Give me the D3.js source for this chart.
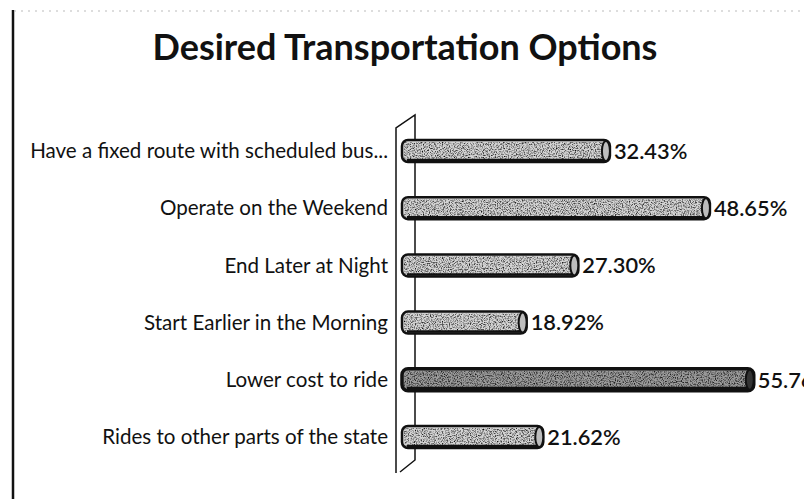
<!DOCTYPE html>
<html>
<head>
<meta charset="utf-8">
<script src="https://cdn.jsdelivr.net/npm/d3@7"></script>
<style>
  html, body { margin: 0; padding: 0; background: #fff; }
  svg { display: block; }
  text { font-family: Lato, "Open Sans", sans-serif; fill: #111; }
</style>
</head>
<body>
<div id="chart"></div>
<script>
// data, top to bottom
const categories = [
  'Have a fixed route with scheduled bus...',
  'Operate on the Weekend',
  'End Later at Night',
  'Start Earlier in the Morning',
  'Lower cost to ride',
  'Rides to other parts of the state'
];
const values = [32.43, 48.65, 27.30, 18.92, 55.76, 21.62];
const valueLabels = ['32.43%', '48.65%', '27.30%', '18.92%', '55.76%', '21.62%'];
const title = 'Desired Transportation Options';

const width = 804, height = 499;
const barH = 22;

const svg = d3.select('#chart').append('svg')
  .attr('width', width)
  .attr('height', height);

// grain texture for the scanned cylinders
const defs = svg.append('defs');
const grain = defs.append('filter').attr('id', 'grain')
  .attr('x', 0).attr('y', 0).attr('width', 1).attr('height', 1);
grain.append('feTurbulence')
  .attr('type', 'fractalNoise')
  .attr('baseFrequency', 0.85)
  .attr('numOctaves', 2)
  .attr('seed', 3)
  .attr('result', 'noise');
grain.append('feColorMatrix')
  .attr('in', 'noise')
  .attr('type', 'matrix')
  .attr('values', '0 0 0 0 0  0 0 0 0 0  0 0 0 0 0  0 0 0 -2.2 1.25')
  .attr('result', 'speck');
grain.append('feComposite')
  .attr('in', 'speck').attr('in2', 'SourceGraphic').attr('operator', 'in');

// frame: thick left edge and faint dotted top
svg.append('line')
  .attr('x1', 13).attr('x2', 13).attr('y1', 10).attr('y2', height)
  .attr('stroke', '#111').attr('stroke-width', 2.5);
svg.append('line')
  .attr('x1', 14).attr('x2', width).attr('y1', 11).attr('y2', 11)
  .attr('stroke', '#bbb').attr('stroke-width', 1)
  .attr('stroke-dasharray', '2,5');

// title
const titleText = svg.append('text')
  .attr('x', 405).attr('y', 60)
  .attr('text-anchor', 'middle')
  .style('font-size', '36px')
  .style('font-weight', 700)
  .text(title);
// stretch to the width seen in the picture
const tw = titleText.node().getComputedTextLength();
titleText.style('font-size', (36 * 505 / tw).toFixed(2) + 'px');

// scales
const x = d3.scaleLinear().domain([0, 60]).range([410, 410 + 60 * 6.165]);
const y = d3.scalePoint().domain(categories).range([151, 437]);

// 3d back wall of the category axis
const wall = svg.append('g').attr('fill', 'none').attr('stroke', '#111').attr('stroke-width', 1.5);
wall.append('path')
  .attr('d', `M396,473 L396,128 L415,115 L415,460 L400,472`);

// category labels
const catG = svg.append('g').attr('class', 'cats');
catG.selectAll('text').data(categories).enter().append('text')
  .attr('x', 388)
  .attr('y', d => y(d))
  .attr('dy', '0.35em')
  .attr('text-anchor', 'end')
  .style('font-size', '20px')
  .text(d => d);

// fit label font to the width seen in the picture
const first = catG.select('text').node();
const w0 = first.getComputedTextLength();
const fs = 20 * 358 / w0;
catG.selectAll('text').style('font-size', fs.toFixed(2) + 'px');

// value labels (drawn under the bars, as in the picture)
svg.append('g').selectAll('text').data(values).enter().append('text')
  .attr('x', d => x(d) + 4)
  .attr('y', (d, i) => y(categories[i]))
  .attr('dy', '0.36em')
  .style('font-size', (fs * 1.06).toFixed(2) + 'px')
  .style('font-weight', 600)
  .text((d, i) => valueLabels[i]);

// cylinders
const bars = svg.append('g').selectAll('g').data(values).enter().append('g');
const x0 = x(0) - 8;
bars.append('rect')
  .attr('x', x0)
  .attr('y', (d, i) => y(categories[i]) - barH / 2)
  .attr('width', d => x(d) - x0)
  .attr('height', barH)
  .attr('rx', 6)
  .attr('fill', (d, i) => i === 4 ? '#9a9a9a' : '#d4d4d4');
bars.append('rect')
  .attr('x', x0 + 2)
  .attr('y', (d, i) => y(categories[i]) - barH / 2 + 2)
  .attr('width', d => x(d) - x0 - 4)
  .attr('height', barH - 4)
  .attr('fill', (d, i) => i === 4 ? '#222' : '#555')
  .attr('filter', 'url(#grain)');
bars.append('rect')
  .attr('x', x0)
  .attr('y', (d, i) => y(categories[i]) - barH / 2)
  .attr('width', d => x(d) - x0)
  .attr('height', barH)
  .attr('rx', 6)
  .attr('fill', 'none')
  .attr('stroke', '#111')
  .attr('stroke-width', (d, i) => i === 4 ? 3.5 : 2.5);
// dark bottom edge
bars.append('line')
  .attr('x1', x0 + 5)
  .attr('x2', d => x(d) - 4)
  .attr('y1', (d, i) => y(categories[i]) + barH / 2 - 2)
  .attr('y2', (d, i) => y(categories[i]) + barH / 2 - 2)
  .attr('stroke', '#111')
  .attr('stroke-width', (d, i) => i === 4 ? 4 : 2.5);
// end cap
bars.append('ellipse')
  .attr('cx', d => x(d) - 4)
  .attr('cy', (d, i) => y(categories[i]))
  .attr('rx', 4)
  .attr('ry', barH / 2 - 1)
  .attr('fill', (d, i) => i === 4 ? '#333' : '#bdbdbd')
  .attr('stroke', '#111')
  .attr('stroke-width', 2);
</script>
</body>
</html>
